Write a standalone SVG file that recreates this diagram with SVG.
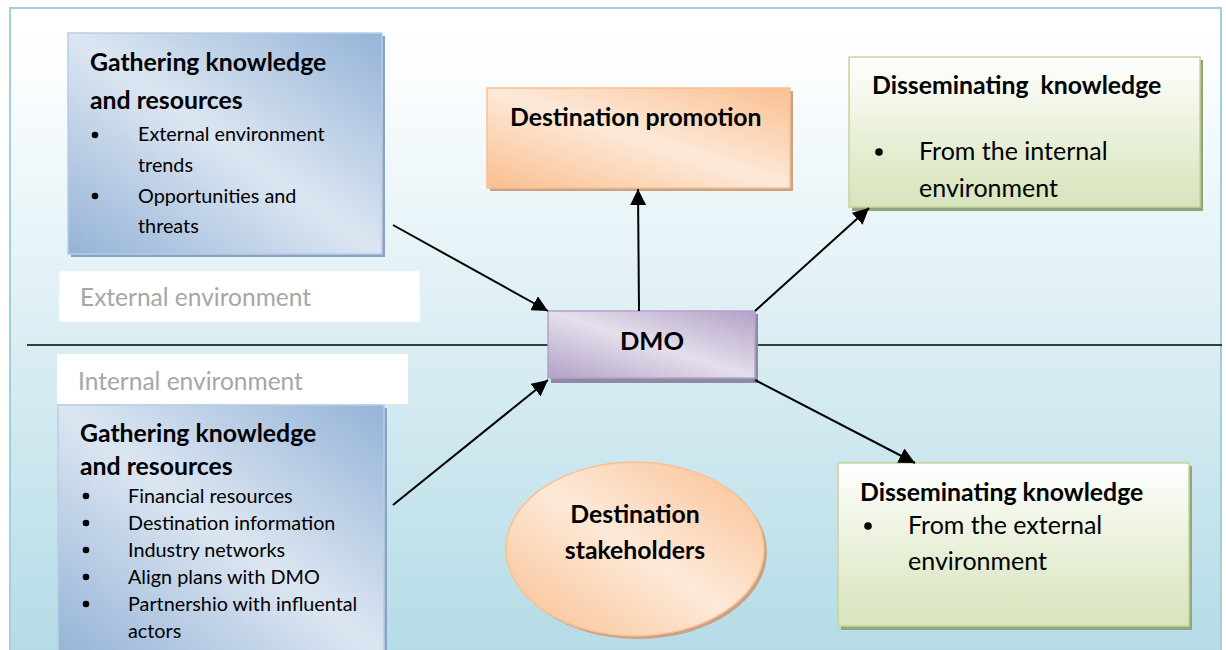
<svg xmlns="http://www.w3.org/2000/svg" width="1226" height="650" viewBox="0 0 1226 650">
  <defs>
    <linearGradient id="bg" x1="0" y1="0" x2="0" y2="1">
      <stop offset="0" stop-color="#ffffff"/>
      <stop offset="0.08" stop-color="#fdfeff"/>
      <stop offset="1" stop-color="#b4dbe6"/>
    </linearGradient>
    <linearGradient id="blue" x1="1" y1="0" x2="0" y2="1">
      <stop offset="0" stop-color="#95b3d7"/>
      <stop offset="0.5" stop-color="#dce6f2"/>
      <stop offset="1" stop-color="#95b3d7"/>
    </linearGradient>
    <linearGradient id="orange" x1="1" y1="0" x2="0" y2="1">
      <stop offset="0" stop-color="#fabf8f"/>
      <stop offset="0.5" stop-color="#fde9d9"/>
      <stop offset="1" stop-color="#fabf8f"/>
    </linearGradient>
    <linearGradient id="purple" x1="1" y1="0" x2="0" y2="1">
      <stop offset="0" stop-color="#b2a1c7"/>
      <stop offset="0.5" stop-color="#e5dfec"/>
      <stop offset="1" stop-color="#b2a1c7"/>
    </linearGradient>
    <linearGradient id="green" x1="0" y1="0" x2="0" y2="1">
      <stop offset="0" stop-color="#ffffff"/>
      <stop offset="0.6" stop-color="#e6eed4"/>
      <stop offset="1" stop-color="#d7e4bd"/>
    </linearGradient>
    <marker id="head" viewBox="0 0 16 16" refX="16" refY="8" markerWidth="16" markerHeight="16" markerUnits="userSpaceOnUse" orient="auto">
      <path d="M0,0 L16,8 L0,16 z" fill="#000"/>
    </marker>
  </defs>
  <style>
    .t { font-family: Lato, "Liberation Sans", sans-serif; fill: #000; }
    .title { font-weight: bold; font-size: 24.8px; }
    .item { font-size: 19.8px; }
    .item2 { font-size: 25px; }
    .env { font-family: Lato, "Liberation Sans", sans-serif; font-size: 24.5px; fill: #a6a6a6; }
    .conn { stroke: #000; stroke-width: 2; fill: none; }
    .bul { fill: #000; }
  </style>

  <!-- background frame -->
  <rect x="10" y="8" width="1211" height="650" fill="url(#bg)" stroke="#9fd0dd" stroke-width="2"/>

  <!-- environment divider -->
  <g id="divider">
    <line x1="27" y1="345" x2="1222" y2="345" stroke="#000" stroke-width="1.5"/>
  </g>

  <!-- environment labels -->
  <g id="external-label">
    <rect x="59" y="271" width="361" height="51" fill="#ffffff" stroke="#eeeeee" stroke-width="1" stroke-dasharray="2 2"/>
    <text class="env" x="80" y="306">External environment</text>
  </g>
  <g id="internal-label">
    <rect x="57" y="354" width="351" height="50" fill="#ffffff"/>
    <text class="env" x="78" y="390">Internal environment</text>
  </g>

  <!-- gathering (external) -->
  <g id="gather-external">
    <rect x="71" y="36" width="314" height="221" fill="#8aa3c0"/>
    <rect x="68" y="33" width="314" height="221" fill="url(#blue)" stroke="#b9cde5" stroke-width="1.5"/>
    <text class="t title" x="90" y="71">Gathering knowledge</text>
    <text class="t title" x="90" y="109">and resources</text>
    <circle class="bul" cx="95" cy="135" r="3.3"/>
    <text class="t item" x="138" y="141">External environment</text>
    <text class="t item" x="138" y="172">trends</text>
    <circle class="bul" cx="95" cy="196" r="3.3"/>
    <text class="t item" x="138" y="203">Opportunities and</text>
    <text class="t item" x="138" y="233">threats</text>
  </g>

  <!-- gathering (internal) -->
  <g id="gather-internal">
    <rect x="61" y="408" width="326" height="250" fill="#8aa3c0"/>
    <rect x="58" y="405" width="326" height="250" fill="url(#blue)" stroke="#b9cde5" stroke-width="1.5"/>
    <text class="t title" x="80" y="442">Gathering knowledge</text>
    <text class="t title" x="80" y="475">and resources</text>
    <circle class="bul" cx="86" cy="496" r="3.3"/>
    <text class="t item" x="128" y="503">Financial resources</text>
    <circle class="bul" cx="86" cy="523" r="3.3"/>
    <text class="t item" x="128" y="530">Destination information</text>
    <circle class="bul" cx="86" cy="550" r="3.3"/>
    <text class="t item" x="128" y="557">Industry networks</text>
    <circle class="bul" cx="86" cy="577" r="3.3"/>
    <text class="t item" x="128" y="584">Align plans with DMO</text>
    <circle class="bul" cx="86" cy="604" r="3.3"/>
    <text class="t item" x="128" y="611">Partnershio with influental</text>
    <text class="t item" x="128" y="638">actors</text>
  </g>

  <!-- destination promotion -->
  <g id="promotion">
    <rect x="490" y="91" width="303" height="100" fill="#c9a285"/>
    <rect x="487" y="88" width="303" height="100" fill="url(#orange)" stroke="#fac090" stroke-width="1.5"/>
    <text class="t title" x="510" y="126">Destination promotion</text>
  </g>

  <!-- DMO -->
  <g id="dmo">
    <rect x="551" y="314" width="207" height="69" fill="#8e8aa3"/>
    <rect x="548" y="311" width="207" height="67" fill="url(#purple)" stroke="#b3a2c7" stroke-width="1.5"/>
    <text class="t" x="652" y="350" font-size="25.5" font-weight="bold" text-anchor="middle">DMO</text>
  </g>

  <!-- disseminating (internal) -->
  <g id="dissem-internal">
    <rect x="852" y="60" width="351" height="151" fill="#93a57a"/>
    <rect x="849" y="57" width="351" height="150" fill="url(#green)" stroke="#c3d69b" stroke-width="1.5"/>
    <text class="t title" x="872" y="94" xml:space="preserve">Disseminating  knowledge</text>
    <circle class="bul" cx="879" cy="152" r="3.8"/>
    <text class="t item2" x="919" y="160">From the internal</text>
    <text class="t item2" x="919" y="197">environment</text>
  </g>

  <!-- disseminating (external) -->
  <g id="dissem-external">
    <rect x="841" y="466" width="351" height="164" fill="#93a57a"/>
    <rect x="838" y="463" width="351" height="163" fill="url(#green)" stroke="#c3d69b" stroke-width="1.5"/>
    <text class="t title" x="860" y="501">Disseminating knowledge</text>
    <circle class="bul" cx="868" cy="526" r="3.8"/>
    <text class="t item2" x="908" y="534">From the external</text>
    <text class="t item2" x="908" y="570">environment</text>
  </g>

  <!-- destination stakeholders -->
  <g id="stakeholders">
    <ellipse cx="638" cy="552" rx="129" ry="87" fill="#c9a285"/>
    <ellipse cx="635" cy="549" rx="129" ry="87" fill="url(#orange)" stroke="#fac090" stroke-width="1.5"/>
    <text class="t title" x="635" y="523" text-anchor="middle">Destination</text>
    <text class="t title" x="635" y="559" text-anchor="middle">stakeholders</text>
  </g>

  <!-- connectors -->
  <g id="connectors">
    <line class="conn" x1="393" y1="225" x2="548" y2="311" marker-end="url(#head)"/>
    <line class="conn" x1="639" y1="311" x2="638" y2="189" marker-end="url(#head)"/>
    <line class="conn" x1="755" y1="311" x2="869" y2="208" marker-end="url(#head)"/>
    <line class="conn" x1="393" y1="505" x2="548" y2="380" marker-end="url(#head)"/>
    <line class="conn" x1="755" y1="380" x2="915" y2="463" marker-end="url(#head)"/>
  </g>
</svg>
